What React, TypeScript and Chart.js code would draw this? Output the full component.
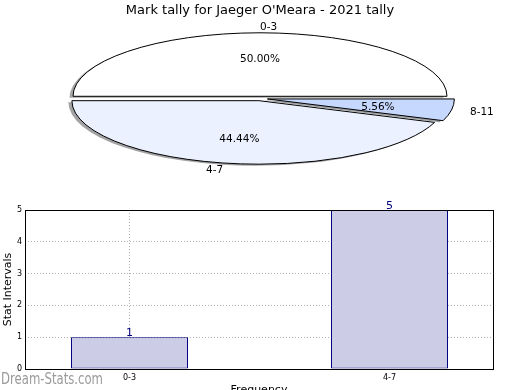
import React, { useEffect, useRef } from "react";
import { Chart, registerables } from "chart.js";

Chart.register(...registerables);

const FONT = "'DejaVu Sans', sans-serif";

// ---------- data ----------
const pieTitle = "Mark tally for Jaeger O'Meara - 2021 tally";
const pieLabels = ["0-3", "4-7", "8-11"];
const pieValues = [9, 8, 1];
const pieColors = ["#FFFFFF", "#EBF1FE", "#C6D8FE"];
const pieExplode = [6.5, 6.5, 7.5];

const barCategories = ["0-3", "4-7"];
const barValues = [1, 5];
const barXTitle = "Frequency";
const barYTitle = "Stat Intervals";
const watermark = "Dream-Stats.com";

// ---------- geometry of the flattened pie ----------
const PIE_CX = 260;
const PIE_CY = 98.5;
const PIE_RX = 187;
const PIE_RY = 63.5;
const K = PIE_RY / PIE_RX;
const SHADOW_DX = -3.5;
const SHADOW_DY = 1.5;

function hexToRgb(h: string) {
  const n = parseInt(h.slice(1), 16);
  return [(n >> 16) & 255, (n >> 8) & 255, n & 255];
}

const ellipsePiePlugin = {
  id: "ellipsePie",
  afterDatasetsUpdate(chart: any) {
    const meta = chart.getDatasetMeta(0);
    const ca = chart.chartArea;
    const cx = (ca.left + ca.right) / 2;
    const cy = (ca.top + ca.bottom) / 2;
    meta.data.forEach((el: any, i: number) => {
      const m = (el.startAngle + el.endAngle) / 2;
      el.x = cx + Math.cos(m) * pieExplode[i];
      el.y = cy + Math.sin(m) * pieExplode[i];
    });
  },
  beforeDatasetsDraw(chart: any) {
    const ctx = chart.ctx;
    const meta = chart.getDatasetMeta(0);
    const ca = chart.chartArea;
    const cx = (ca.left + ca.right) / 2;
    const cy = (ca.top + ca.bottom) / 2;
    const apply = (sx = 0, sy = 0) => {
      ctx.translate(PIE_CX + sx, PIE_CY + sy);
      ctx.scale(1, -K);
      ctx.translate(-cx, -cy);
    };
    const slicePath = (el: any) => {
      ctx.beginPath();
      ctx.moveTo(el.x, el.y);
      ctx.arc(el.x, el.y, el.outerRadius, el.startAngle, el.endAngle);
      ctx.closePath();
    };
    ctx.save();
    meta.data.forEach((el: any, i: number) => {
      const [r, g, b] = hexToRgb(pieColors[i]);
      ctx.save();
      apply(SHADOW_DX, SHADOW_DY);
      slicePath(el);
      ctx.fillStyle = `rgba(${Math.round(r * 0.3)},${Math.round(g * 0.3)},${Math.round(b * 0.3)},0.5)`;
      ctx.fill();
      ctx.restore();

      ctx.save();
      apply();
      el.draw(ctx);
      ctx.restore();

      ctx.save();
      apply();
      slicePath(el);
      ctx.restore();
      ctx.lineWidth = 1;
      ctx.lineJoin = "round";
      ctx.strokeStyle = "#000";
      ctx.stroke();
    });
    ctx.restore();
    return false;
  },
  afterDraw(chart: any) {
    const ctx = chart.ctx;
    const meta = chart.getDatasetMeta(0);
    const ca = chart.chartArea;
    const cx = (ca.left + ca.right) / 2;
    const cy = (ca.top + ca.bottom) / 2;
    const values: number[] = chart.data.datasets[0].data;
    const total = values.reduce((a, b) => a + b, 0);
    ctx.save();
    ctx.fillStyle = "#000";
    ctx.font = `10.5px ${FONT}`;
    ctx.textBaseline = "middle";
    meta.data.forEach((el: any, i: number) => {
      const m = (el.startAngle + el.endAngle) / 2;
      const toVis = (f: number) => {
        const px = el.x + Math.cos(m) * f * el.outerRadius;
        const py = el.y + Math.sin(m) * f * el.outerRadius;
        return [PIE_CX + (px - cx), PIE_CY - (py - cy) * K];
      };
      const [lx, ly] = toVis(1.1);
      ctx.textAlign = Math.cos(m) > 0 ? "left" : "right";
      ctx.fillText(String(chart.data.labels[i]), lx, ly + 1);
      const [px, py] = toVis(0.6);
      ctx.textAlign = "center";
      ctx.fillText(((values[i] / total) * 100).toFixed(2) + "%", px, py + 1.5);
    });
    ctx.restore();
  },
};

const barExtrasPlugin = {
  id: "barExtras",
  afterDraw(chart: any) {
    const ctx = chart.ctx;
    const ca = chart.chartArea;
    ctx.save();
    // frame
    ctx.strokeStyle = "#000";
    ctx.lineWidth = 1;
    ctx.strokeRect(ca.left + 0.5, ca.top + 0.5, ca.right - ca.left, ca.bottom - ca.top);
    // value labels
    const meta = chart.getDatasetMeta(0);
    ctx.fillStyle = "#000080";
    ctx.font = `11px ${FONT}`;
    ctx.textAlign = "center";
    ctx.textBaseline = "alphabetic";
    meta.data.forEach((el: any, i: number) => {
      ctx.fillText(String(barValues[i]), el.x, el.y - 1);
    });
    // watermark
    ctx.fillStyle = "#9a9a9a";
    ctx.font = `15px ${FONT}`;
    ctx.textAlign = "left";
    ctx.textBaseline = "middle";
    ctx.fillText(watermark, 1, 180, 102);
    ctx.restore();
  },
};

export default function App() {
  const pieRef = useRef<HTMLCanvasElement | null>(null);
  const barRef = useRef<HTMLCanvasElement | null>(null);

  useEffect(() => {
    Chart.defaults.font.family = FONT;
    Chart.defaults.color = "#000";

    const pie = new Chart(pieRef.current as HTMLCanvasElement, {
      type: "pie",
      data: {
        labels: pieLabels,
        datasets: [
          {
            data: pieValues,
            backgroundColor: pieColors,
            borderWidth: 0,
            radius: PIE_RX,
            rotation: 90,
            clip: false,
          } as any,
        ],
      },
      options: {
        responsive: false,
        animation: false,
        events: [],
        layout: { padding: 0 },
        plugins: {
          legend: { display: false },
          tooltip: { enabled: false },
          title: {
            display: true,
            text: pieTitle,
            color: "#000",
            font: { size: 13, weight: "normal", family: FONT },
            padding: { top: 3, bottom: 0 },
          },
        },
      } as any,
      plugins: [ellipsePiePlugin as any],
    });

    const bar = new Chart(barRef.current as HTMLCanvasElement, {
      type: "bar",
      data: {
        datasets: [
          {
            data: barValues.map((v, i) => ({ x: i, y: v })),
            backgroundColor: "#CCCCE6",
            borderColor: "#000080",
            borderWidth: 1,
            borderSkipped: false,
            barPercentage: 0.45,
            categoryPercentage: 1,
          } as any,
        ],
      },
      options: {
        responsive: false,
        animation: false,
        events: [],
        layout: { padding: { top: 10, right: 27, left: 0, bottom: 0 } },
        plugins: {
          legend: { display: false },
          tooltip: { enabled: false },
          title: { display: false },
        },
        scales: {
          x: {
            type: "linear",
            min: -0.402,
            max: 1.398,
            offset: false,
            z: 1,
            afterBuildTicks: (s: any) => {
              s.ticks = barCategories.map((_, i) => ({ value: i }));
            },
            afterFit: (s: any) => {
              s.height = 31;
            },
            ticks: {
              callback: (v: any) => barCategories[v] ?? "",
              font: { size: 8, family: FONT },
              color: "#000",
              padding: 4,
              maxRotation: 0,
              autoSkip: false,
            },
            grid: { color: "#b0b0b0", lineWidth: 1, drawTicks: false, offset: false },
            border: { display: false, dash: [1, 2] },
            title: {
              display: true,
              text: barXTitle,
              color: "#000",
              font: { size: 11, family: FONT },
              padding: { top: 0, bottom: 3.4 },
            },
          },
          y: {
            min: 0,
            max: 5,
            z: 1,
            afterFit: (s: any) => {
              s.width = 25;
            },
            ticks: {
              stepSize: 1,
              font: { size: 8, family: FONT },
              color: "#000",
              padding: 3,
            },
            grid: { color: "#b0b0b0", lineWidth: 1, drawTicks: false },
            border: { display: false, dash: [1, 2] },
            title: {
              display: true,
              text: barYTitle,
              color: "#000",
              font: { size: 11, family: FONT },
              padding: { top: 2, bottom: 0 },
            },
          },
        },
      } as any,
      plugins: [barExtrasPlugin as any],
    });

    return () => {
      pie.destroy();
      bar.destroy();
    };
  }, []);

  return (
    <div
      style={{
        position: "fixed",
        left: 0,
        top: 0,
        width: 520,
        height: 390,
        overflow: "hidden",
        background: "#fff",
      }}
    >
      <canvas
        ref={pieRef}
        width={520}
        height={200}
        style={{ position: "absolute", left: 0, top: 0 }}
      />
      <canvas
        ref={barRef}
        width={520}
        height={200}
        style={{ position: "absolute", left: 0, top: 200 }}
      />
    </div>
  );
}
